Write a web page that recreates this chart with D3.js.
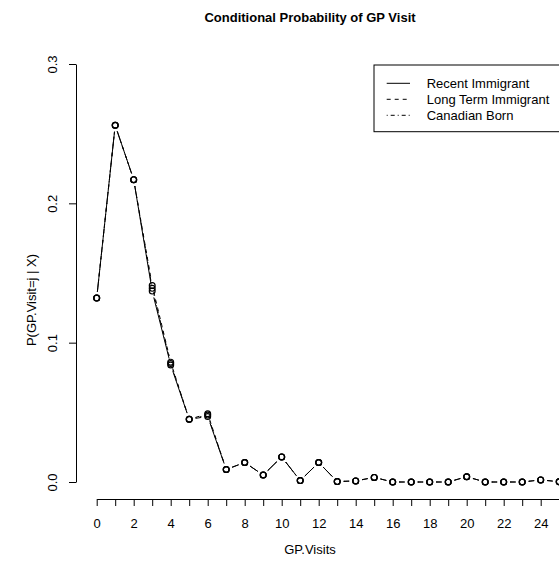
<!DOCTYPE html>
<html>
<head>
<meta charset="utf-8">
<script src="https://cdn.jsdelivr.net/npm/d3@7"></script>
<style>
  body { margin: 0; background: #fff; }
  svg { display: block; font-family: "Liberation Sans", Arial, sans-serif; }
</style>
</head>
<body>
<svg id="chart" width="559" height="569"></svg>
<script>
const visits = [0, 1, 2, 3, 4, 5, 6, 7, 8, 9, 10, 11, 12, 13, 14, 15, 16, 17, 18, 19, 20, 21, 22, 23, 24, 25]
const recent = [0.132, 0.256, 0.217, 0.137, 0.084, 0.045, 0.047, 0.009, 0.014, 0.005, 0.018, 0.001, 0.014,
  0.0003, 0.0008, 0.0033, 0, 0, 0, 0, 0.0038, 0, 0, 0, 0.0015, 0.0002]
const longTerm = [0.132, 0.256, 0.217, 0.141, 0.086, 0.045, 0.049, 0.009, 0.014, 0.005, 0.018, 0.001, 0.014,
  0.0003, 0.0008, 0.0033, 0, 0, 0, 0, 0.0038, 0, 0, 0, 0.0015, 0.0002]
const canadian = [0.132, 0.256, 0.217, 0.139, 0.085, 0.045, 0.048, 0.009, 0.014, 0.005, 0.018, 0.001, 0.014,
  0.0003, 0.0008, 0.0033, 0, 0, 0, 0, 0.0038, 0, 0, 0, 0.0015, 0.0002]
const yTicks = [0, 0.1, 0.2, 0.3]

const series = [
  { name: 'Recent Immigrant', values: recent, dash: null },
  { name: 'Long Term Immigrant', values: longTerm, dash: '4,4' },
  { name: 'Canadian Born', values: canadian, dash: '1,3,4,3' }
]

const svg = d3.select('#chart')
const x = d3.scaleLinear().domain([0, 25]).range([96.7, 559.2])
const y = d3.scaleLinear().domain([0, 0.3]).range([482, 64])
const axisX = 76, axisY = 499
const gap = 6.5
const fontSize = '13px'

// title
svg.append('text')
  .attr('x', 310).attr('y', 22)
  .attr('text-anchor', 'middle')
  .style('font-weight', 'bold').style('font-size', '13px')
  .text('Conditional Probability of GP Visit')

// x axis
const gx = svg.append('g').attr('transform', `translate(0,${axisY})`)
  .call(d3.axisBottom(x).tickValues(visits).tickSize(7).tickSizeOuter(0)
    .tickFormat(d => d % 2 === 0 ? d : ''))
gx.select('.domain').attr('stroke', '#000')
gx.selectAll('.tick line').attr('stroke', '#000')
gx.selectAll('.tick text')
  .attr('y', 29).attr('dy', 0)
  .style('font-size', fontSize).style('font-family', 'Liberation Sans, Arial, sans-serif')
  .attr('fill', '#000')

// y axis
const gy = svg.append('g').attr('transform', `translate(${axisX},0)`)
  .call(d3.axisLeft(y).tickValues(yTicks).tickSize(7).tickSizeOuter(0)
    .tickFormat(d3.format('.1f')))
gy.select('.domain').attr('stroke', '#000')
gy.selectAll('.tick line').attr('stroke', '#000')
gy.selectAll('.tick text')
  .attr('transform', 'rotate(-90)')
  .attr('x', 0).attr('y', -19.5).attr('dy', 0)
  .attr('text-anchor', 'middle')
  .style('font-size', fontSize).style('font-family', 'Liberation Sans, Arial, sans-serif')
  .attr('fill', '#000')

// axis titles
svg.append('text')
  .attr('x', 310).attr('y', 554)
  .attr('text-anchor', 'middle').style('font-size', fontSize)
  .text('GP.Visits')
svg.append('text')
  .attr('transform', 'translate(36,300) rotate(-90)')
  .attr('text-anchor', 'middle').style('font-size', fontSize)
  .text('P(GP.Visit=j | X)')

// lines with gaps around points (R type = "b")
const plot = svg.append('g')
series.forEach(s => {
  const pts = visits.map((v, i) => [x(v), y(s.values[i])])
  const segs = []
  for (let i = 0; i < pts.length - 1; i++) {
    const [x1, y1] = pts[i], [x2, y2] = pts[i + 1]
    const len = Math.hypot(x2 - x1, y2 - y1)
    if (len <= 2 * gap) continue
    const ux = (x2 - x1) / len, uy = (y2 - y1) / len
    segs.push([x1 + ux * gap, y1 + uy * gap, x2 - ux * gap, y2 - uy * gap])
  }
  plot.selectAll(null).data(segs).enter().append('line')
    .attr('x1', d => d[0]).attr('y1', d => d[1])
    .attr('x2', d => d[2]).attr('y2', d => d[3])
    .attr('stroke', '#000').attr('stroke-width', 1)
    .attr('stroke-dasharray', s.dash)
  plot.selectAll(null).data(pts).enter().append('circle')
    .attr('cx', d => d[0]).attr('cy', d => d[1])
    .attr('r', 2.9)
    .attr('fill', 'none').attr('stroke', '#000').attr('stroke-width', 1.2)
})

// legend
const legend = svg.append('g').attr('transform', 'translate(374,65)')
legend.append('rect')
  .attr('x', 0).attr('y', 0).attr('width', 200).attr('height', 66.7)
  .attr('fill', 'none').attr('stroke', '#000')
const row = legend.selectAll('.row').data(series).enter().append('g')
  .attr('transform', (d, i) => `translate(0,${18.3 + i * 16})`)
row.append('line')
  .attr('x1', 12.7).attr('x2', 36).attr('y1', 0).attr('y2', 0)
  .attr('stroke', '#000').attr('stroke-dasharray', d => d.dash)
row.append('text')
  .attr('x', 52.7).attr('y', 4.5)
  .style('font-size', fontSize)
  .text(d => d.name)
</script>
</body>
</html>
